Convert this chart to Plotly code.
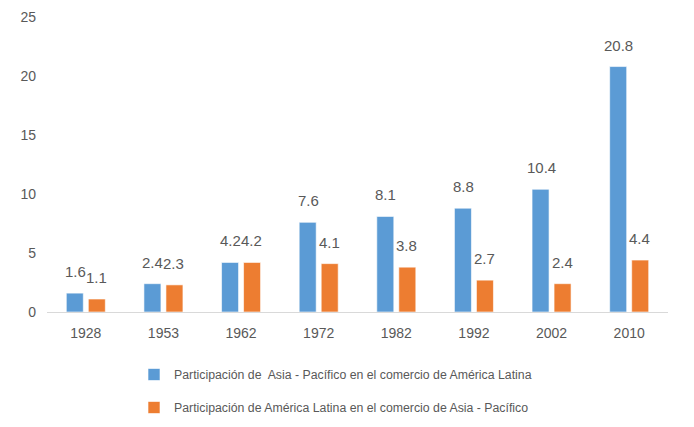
import plotly.graph_objects as go

years = ["1928", "1953", "1962", "1972", "1982", "1992", "2002", "2010"]
asia_in_latam = [1.6, 2.4, 4.2, 7.6, 8.1, 8.8, 10.4, 20.8]
latam_in_asia = [1.1, 2.3, 4.2, 4.1, 3.8, 2.7, 2.4, 4.4]
names = [
    "Participación de  Asia - Pacífico en el comercio de América Latina",
    "Participación de América Latina en el comercio de Asia - Pacífico",
]
colors = ["#5B9BD5", "#ED7D31"]

FONT = "Liberation Sans, Arial, sans-serif"
GRAY = "#595959"

# page has an 8px body margin; compensate so plot area sits at x 47-668, y 17-312
L, T = 39, 9
W, H = 621, 295

fig = go.Figure()
annotations = []
series = [asia_in_latam, latam_in_asia]
shifts = [-10.5, 10.5]
for i, (vals, name, col) in enumerate(zip(series, names, colors)):
    fig.add_trace(go.Bar(
        x=years, y=vals, name=name, marker_color=col, legendgroup=f"g{i}",
        marker_line=dict(color="rgba(255,255,255,0.6)", width=1),
    ))
    for j, v in enumerate(vals):
        annotations.append(dict(
            x=j, y=v, xref="x", yref="y", text=f"{v:.1f}", showarrow=False,
            xshift=shifts[i], yshift=11, yanchor="bottom",
            font=dict(size=15, color=GRAY, family=FONT),
        ))

fig.update_layout(
    width=694, height=427,
    margin=dict(l=L, r=694 - L - W, t=T, b=427 - T - H, autoexpand=False),
    plot_bgcolor="white", paper_bgcolor="white",
    barmode="group", bargap=0.433, bargroupgap=0.227,
    font=dict(family=FONT, color=GRAY, size=14),
    showlegend=True,
    legend=dict(orientation="v", x=87 / W, xanchor="left", y=-48 / H, yanchor="top",
                font=dict(size=12.3, color=GRAY, family=FONT), itemwidth=30,
                tracegroupgap=14, bgcolor="rgba(0,0,0,0)"),
    xaxis=dict(type="category", range=[-0.5, len(years) - 0.5], showline=True,
               linecolor="#D9D9D9", linewidth=1, ticks="", tickfont=dict(size=14),
               ticklabelstandoff=8, showgrid=False, automargin=False),
    yaxis=dict(range=[0, 25], dtick=5, showgrid=False, zeroline=False,
               showline=False, tickfont=dict(size=14), ticklabelstandoff=10,
               automargin=False),
    annotations=annotations,
)

fig.write_html("out.html")
